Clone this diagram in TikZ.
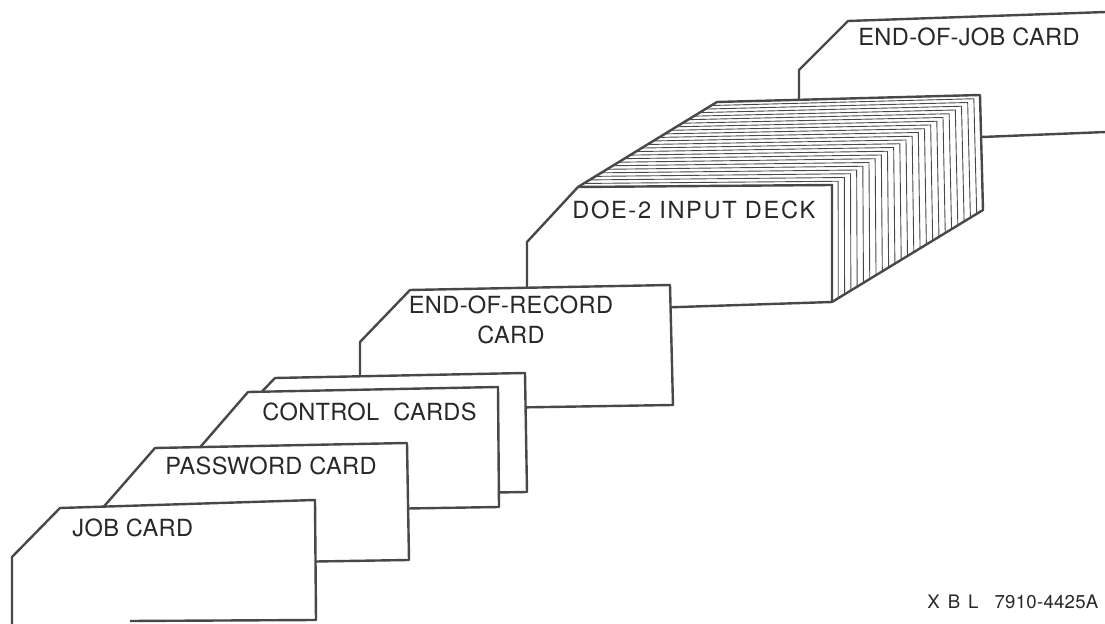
\documentclass[tikz,border=0pt]{standalone}
\usepackage{fontspec}
\setmainfont{TeX Gyre Heros}
\newfontfamily\lbl[LetterSpace=1.5]{TeX Gyre Heros}
\newfontfamily\lblwide[LetterSpace=7]{TeX Gyre Heros}
\usetikzlibrary{calc}
\definecolor{ink}{RGB}{72,72,72}
\definecolor{txt}{RGB}{40,40,40}
\begin{document}
\begin{tikzpicture}[x=0.5pt,y=-0.5pt,
  card/.style={draw=ink, line width=1.2pt, line join=round, fill=white},
  edge/.style={draw=ink, line width=1.2pt, line join=round},
  hatch/.style={draw=ink, line width=0.45pt},
  lab/.style={text=txt, inner sep=0pt, anchor=west, font=\lbl\fontsize{11.8}{15}\selectfont}]
\useasboundingbox (0,0) rectangle (1105,624);
\fill[white] (0,0) rectangle (1105,624);

% END-OF-JOB card (back)
\fill[white] (799,150) -- (799,70) -- (848,21) -- (1105,12) -- (1105,133) -- (799,145) -- cycle;
\draw[edge] (799,150) -- (799,70) -- (848,21) -- (1106,12);
\draw[edge] (982,137) -- (1106,132);

% DOE-2 input deck
\coordinate (A0) at (578,187);
\coordinate (A1) at (717,102);
\coordinate (B0) at (832,185);
\coordinate (B1) at (980,95);
\coordinate (C0) at (832,302);
\coordinate (C1) at (983,210);
\fill[white] (A0) -- (A1) -- (B1) -- (C1) -- (C0) -- cycle;
\foreach \i in {1,...,24} {
  \pgfmathsetmacro\ff{\i/24}
  \draw[hatch] ($(A0)!\ff!(A1)$) -- ($(B0)!\ff!(B1)$) -- ($(C0)!\ff!(C1)$);
}
\draw[edge] (A0) -- (A1) -- (B1) -- (C1) -- (C0);
\draw[card] (527,330) -- (527,242) -- (A0) -- (B0) -- (C0) -- (527,312) -- cycle;

% END-OF-RECORD card
\draw[card] (360,420) -- (360,342) -- (410,290) -- (670,285) -- (673,405) -- (360,410) -- cycle;

% control cards
\draw[card] (225,505) -- (225,430) -- (275,378) -- (525,373) -- (527,492) -- (225,497) -- cycle;
\draw[card] (196,520) -- (196,452) -- (248,392) -- (498,387) -- (499,507) -- (196,512) -- cycle;

% password card
\draw[card] (100,580) -- (100,511) -- (155,448) -- (407,443) -- (409,560) -- (100,565) -- cycle;

% job card (front)
\fill[white] (12,630) -- (12,557) -- (60,508) -- (315,500) -- (316,620) -- (12,622) -- cycle;
\draw[edge] (12,626) -- (12,557) -- (60,508) -- (315,500) -- (316,620) -- (130,621);

% labels
\node[lab] (job) at (72,528) {JOB CARD};
\node[lab] (pw) at (165,466) {PASSWORD CARD};
\node[lab] (ctl) at (262,412) {CONTROL\hspace{0.3em} CARDS};
\node[lab, align=center, anchor=center] (eor) at (511,320) {END-OF-RECORD\\CARD};
\node[lab, font=\lblwide\fontsize{11.8}{15}\selectfont] (doe) at (572,210) {DOE-2 INPUT DECK};
\node[lab] (eoj) at (858,37) {END-OF-JOB CARD};
\node[lab, font=\lbl\fontsize{9.3}{11}\selectfont] (xbl) at (927,602) {X\hspace{4pt}B\hspace{4pt}L\hspace{8pt}7910-4425A};
\end{tikzpicture}
\end{document}
